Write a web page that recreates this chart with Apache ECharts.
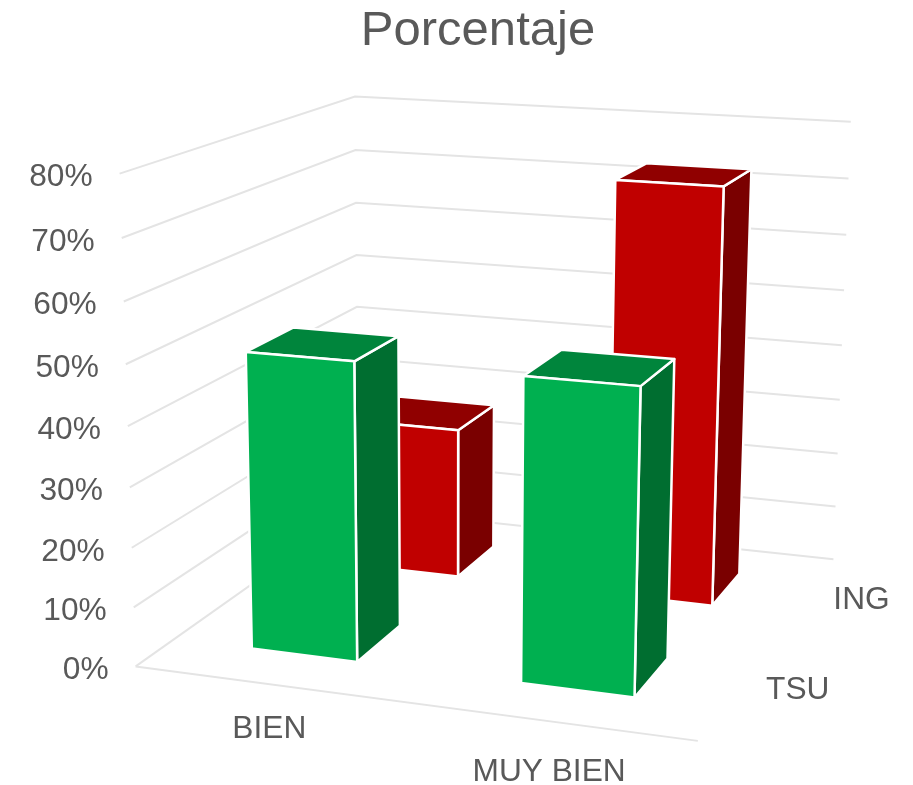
<!DOCTYPE html>
<html>
<head>
<meta charset="utf-8">
<style>
  html, body { margin: 0; padding: 0; background: #fff; }
  #chart { width: 913px; height: 785px; }
</style>
</head>
<body>
<div id="chart"></div>
<script src="https://cdn.jsdelivr.net/npm/echarts@6/dist/echarts.min.js"></script>
<script>
const categories = ['BIEN', 'MUY BIEN']
const depths = ['TSU', 'ING']
const tsuValues = [0.5, 0.5]
const ingValues = [0.27, 0.73]
const yTicks = [0, 0.1, 0.2, 0.3, 0.4, 0.5, 0.6, 0.7, 0.8]
const yMax = 0.8

// esquinas de la caja 3D: [u, v, z] -> pixel, de aqui sale la perspectiva
const boxCorners = [
  [0, 0, 0, 137, 665],
  [1, 0, 0, 698, 742],
  [0, 0, 1, 357, 510],
  [1, 0, 1, 834, 558],
  [0, 1, 0, 118, 174],
  [0, 1, 1, 357, 96],
  [1, 1, 1, 850, 122]
]
const fontName = '"Liberation Sans", Arial, sans-serif'
const textColor = '#595959'
const gridColor = '#e4e4e4'
const barWidth = 0.4 // fraccion de la banda
const colors = {
  TSU: { front: '#00b050', top: '#00853c', side: '#006e30' },
  ING: { front: '#c00000', top: '#900000', side: '#7a0000' }
}
const catLabelOffset = [[1, 45], [0, 51]]

// ajuste minimos cuadrados de la matriz de proyeccion
function fitProjection(points) {
  const n = 11
  const A = []
  for (let i = 0; i < n; i++) A.push(new Array(n + 1).fill(0))
  const addRow = (row, b) => {
    for (let i = 0; i < n; i++) {
      for (let j = 0; j < n; j++) A[i][j] += row[i] * row[j]
      A[i][n] += row[i] * b
    }
  }
  points.forEach(([u, v, z, px, py]) => {
    const x = px / 1000
    const y = py / 1000
    addRow([u, v, z, 1, 0, 0, 0, 0, -x * u, -x * v, -x * z], x)
    addRow([0, 0, 0, 0, u, v, z, 1, -y * u, -y * v, -y * z], y)
  })
  for (let c = 0; c < n; c++) {
    let p = c
    for (let r = c + 1; r < n; r++) if (Math.abs(A[r][c]) > Math.abs(A[p][c])) p = r
    const t = A[c]; A[c] = A[p]; A[p] = t
    for (let r = 0; r < n; r++) {
      if (r === c) continue
      const f = A[r][c] / A[c][c]
      for (let k = c; k <= n; k++) A[r][k] -= f * A[c][k]
    }
  }
  return A.map((row, i) => row[n] / row[i])
}
const m = fitProjection(boxCorners)
function project(u, v, z) {
  const w = m[8] * u + m[9] * v + m[10] * z + 1
  return [
    1000 * (m[0] * u + m[1] * v + m[2] * z + m[3]) / w,
    1000 * (m[4] * u + m[5] * v + m[6] * z + m[7]) / w
  ]
}

// pasa por las escalas de la grid oculta y devuelve fracciones 0..1
function toUnit(api, params, cat, val) {
  const p = api.coord([cat, val])
  const r = params.coordSys
  return [(p[0] - r.x) / r.width, (r.y + r.height - p[1]) / r.height]
}

function renderBar(params, api) {
  const cat = api.value(0)
  const d = api.value(1)
  const val = api.value(2)
  const [uc, v] = toUnit(api, params, cat, val)
  const half = barWidth / categories.length / 2
  const u0 = uc - half
  const u1 = uc + half
  const zc = (d + 0.5) / depths.length
  const z0 = zc - half
  const z1 = zc + half
  const c = colors[depths[d]]
  const face = (pts, fill) => ({
    type: 'polygon',
    shape: { points: pts.map(q => project(q[0], q[1], q[2])) },
    style: { fill: fill, stroke: '#fff', lineWidth: 2.5, lineJoin: 'round' }
  })
  return {
    type: 'group',
    children: [
      face([[u1, 0, z0], [u1, 0, z1], [u1, v, z1], [u1, v, z0]], c.side),
      face([[u0, v, z0], [u1, v, z0], [u1, v, z1], [u0, v, z1]], c.top),
      face([[u0, 0, z0], [u1, 0, z0], [u1, v, z0], [u0, v, z0]], c.front)
    ]
  }
}

function renderGridLine(params, api) {
  const [, v] = toUnit(api, params, 0, api.value(0))
  const line = pts => ({
    type: 'polyline',
    shape: { points: pts },
    style: { fill: 'none', stroke: gridColor, lineWidth: 2 }
  })
  const children = [line([project(0, v, 0), project(0, v, 1), project(1, v, 1)])]
  if (params.dataIndex === 0) children.push(line([project(0, 0, 0), project(1, 0, 0)]))
  return { type: 'group', children: children }
}

function label(text, x, y, align) {
  return {
    type: 'text',
    style: { text: text, x: x, y: y, align: align, verticalAlign: 'middle', fill: textColor, font: '31.7px ' + fontName }
  }
}
function renderYLabel(params, api) {
  const val = api.value(0)
  const [, v] = toUnit(api, params, 0, val)
  const p = project(0, v, 0)
  return label(Math.round(val * 100) + '%', p[0] - 27, p[1] + 4, 'right')
}
function renderCatLabel(params, api) {
  const cat = api.value(0)
  const [u] = toUnit(api, params, cat, 0)
  const p = project(u, 0, 0)
  return label(categories[cat], p[0] + catLabelOffset[cat][0], p[1] + catLabelOffset[cat][1], 'center')
}
function renderDepthLabel(params, api) {
  const d = api.value(0)
  const p = project(1, 0, (d + 0.5) / depths.length)
  return label(depths[d], p[0] + 29, p[1] + 2, 'left')
}

const chart = echarts.init(document.getElementById('chart'))
const option = {
  animation: false,
  backgroundColor: '#fff',
  title: {
    text: 'Porcentaje',
    left: 478,
    top: 2,
    textAlign: 'center',
    textStyle: { color: textColor, fontFamily: fontName, fontSize: 49, fontWeight: 'normal' }
  },
  grid: { left: 0, right: 0, top: 0, bottom: 0 },
  xAxis: { type: 'category', data: categories, show: false },
  yAxis: { type: 'value', min: 0, max: yMax, interval: 0.1, show: false },
  series: [
    { type: 'custom', name: 'grid', silent: true, z: 1, renderItem: renderGridLine, data: yTicks.map(t => [t]), encode: { y: 0 } },
    { type: 'custom', name: 'ING', silent: true, z: 2, renderItem: renderBar, data: ingValues.map((v, i) => [i, 1, v]), encode: { x: 0, y: 2 } },
    { type: 'custom', name: 'TSU', silent: true, z: 3, renderItem: renderBar, data: tsuValues.map((v, i) => [i, 0, v]), encode: { x: 0, y: 2 } },
    { type: 'custom', name: 'ylabels', silent: true, z: 4, renderItem: renderYLabel, data: yTicks.map(t => [t]), encode: { y: 0 } },
    { type: 'custom', name: 'xlabels', silent: true, z: 4, renderItem: renderCatLabel, data: categories.map((c, i) => [i]), encode: { x: 0 } },
    { type: 'custom', name: 'zlabels', silent: true, z: 4, renderItem: renderDepthLabel, data: depths.map((c, i) => [i]) }
  ]
}
// el titulo va centrado sobre su x en el original, un poco a la izquierda
option.title.left = 473
chart.setOption(option)
</script>
</body>
</html>
